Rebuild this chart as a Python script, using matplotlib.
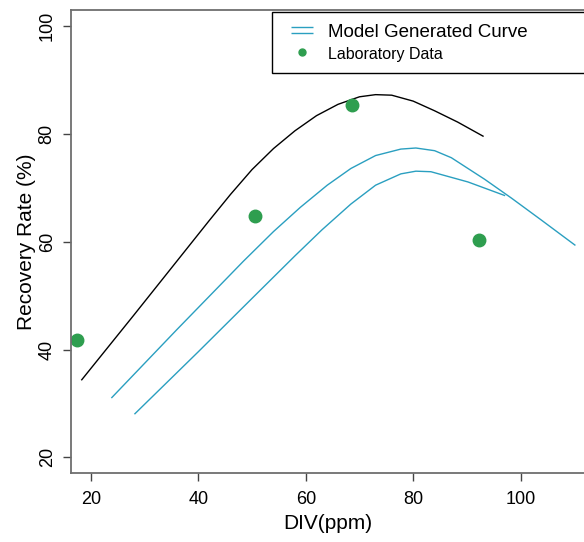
import matplotlib
matplotlib.use("Agg")
import matplotlib.pyplot as plt
from matplotlib.lines import Line2D
from matplotlib.path import Path

plt.rcParams["font.family"] = ["Liberation Sans", "DejaVu Sans"]

# ── Data
lab_x = [17.4, 50.6, 68.7, 92.3]
lab_y = [41.8, 64.8, 85.3, 60.4]

black_x = [18.3, 28.0, 37.6, 42.0, 46.0, 50.0, 54.0, 58.0, 62.0, 66.0, 70.0, 73.0, 76.0, 80.0, 84.0, 88.3, 93.0]
black_y = [34.4, 46.4, 58.4, 63.9, 68.8, 73.4, 77.3, 80.6, 83.4, 85.5, 86.9, 87.3, 87.2, 86.1, 84.3, 82.2, 79.6]

upper_x = [23.9, 36.0, 48.4, 54.0, 59.0, 64.0, 68.4, 73.0, 77.7, 80.5, 84.0, 87.1, 93.3, 98.3, 103.9, 110.1]
upper_y = [31.1, 43.7, 56.4, 61.9, 66.4, 70.5, 73.6, 76.0, 77.2, 77.4, 76.9, 75.6, 71.6, 68.1, 64.0, 59.4]

lower_x = [28.2, 40.0, 50.0, 58.0, 63.0, 68.4, 73.0, 77.7, 80.5, 83.3, 90.2, 97.0]
lower_y = [28.1, 39.6, 49.5, 57.4, 62.2, 67.0, 70.5, 72.6, 73.1, 73.0, 71.1, 68.6]

x_ticks = [20, 40, 60, 80, 100]
y_ticks = [20, 40, 60, 80, 100]

BLUE  = "#2a9fc0"
GREEN = "#2e9e4f"
SPINE = "#6e6e6e"

# ── Figure
fig = plt.figure(figsize=(5.84, 5.42), dpi=100)
ax = fig.add_axes([0.1216, 0.1273, 0.8784, 0.8542])

ax.plot(black_x, black_y, color="black", lw=1.0)
ax.plot(upper_x, upper_y, color=BLUE, lw=1.0)
ax.plot(lower_x, lower_y, color=BLUE, lw=1.0)
ax.plot(lab_x, lab_y, ls="none", marker="o", ms=9, color=GREEN, mec=GREEN)

ax.set_xlim(16.3, 111.8)
ax.set_ylim(17.1, 103.0)
ax.set_xticks(x_ticks)
ax.set_yticks(y_ticks)
ax.tick_params(direction="out", length=6, width=1.0, color="#444444", labelsize=13)
ax.tick_params(axis="x", pad=7)
ax.tick_params(axis="y", pad=5)
for lbl in ax.get_yticklabels():
    lbl.set_rotation(90)
    lbl.set_va("center")

for side in ["left", "bottom", "top"]:
    ax.spines[side].set_color(SPINE)
    ax.spines[side].set_linewidth(1.3)
ax.spines["right"].set_visible(False)

ax.set_xlabel("DIV(ppm)", fontsize=15, labelpad=4)
ax.set_ylabel("Recovery Rate (%)", fontsize=15, labelpad=2)

# ── Legend (two-stroke line symbol, box runs off the right edge)
eq = Path([(-1, 0.25), (1, 0.25), (-1, -0.25), (1, -0.25)],
          [Path.MOVETO, Path.LINETO, Path.MOVETO, Path.LINETO])
h_curve = Line2D([], [], ls="none", marker=eq, ms=16, mec=BLUE, mfc="none", mew=1.0)
h_lab = Line2D([], [], ls="none", marker="o", ms=5, color=GREEN)
leg = ax.legend([h_curve, h_lab], ["Model Generated Curve", "Laboratory Data"],
                loc="upper left", bbox_to_anchor=(0.392, 0.995, 0.65, 0.0),
                mode="expand", fancybox=False, edgecolor="black", framealpha=1,
                fontsize=13.5, borderpad=0.6, borderaxespad=0.0,
                handlelength=2.0, handletextpad=0.4, labelspacing=0.25)
leg.get_frame().set_linewidth(1.0)
leg.get_texts()[1].set_fontsize(11.5)

fig.savefig("out.png", dpi=100)
